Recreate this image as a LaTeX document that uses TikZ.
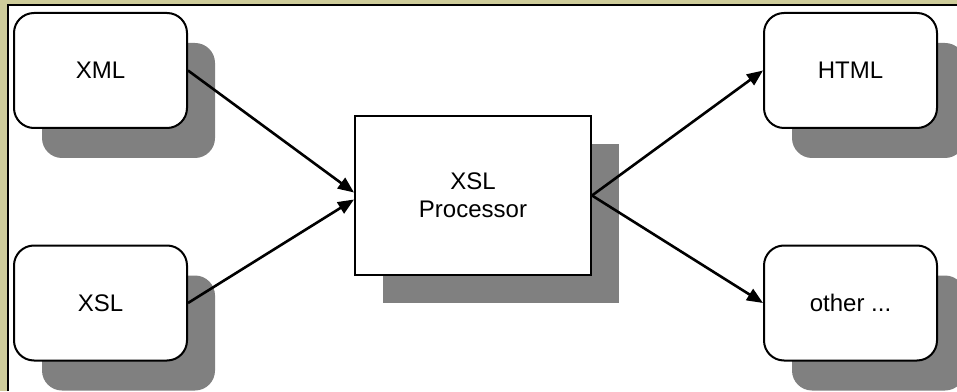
\documentclass[tikz,border=0pt]{standalone}
\usepackage{fontspec}
\setmainfont{Liberation Sans}
\usetikzlibrary{shadows,arrows.meta}
\definecolor{framekhaki}{RGB}{206,204,154}
\definecolor{shadegray}{RGB}{128,128,128}

\begin{document}
\begin{tikzpicture}[x=0.5pt,y=0.5pt,
    docbox/.style={draw,line width=1pt,rounded corners=10pt,fill=white,
        minimum width=86.5pt,minimum height=57.5pt,font=\large,
        drop shadow={shadow xshift=14pt,shadow yshift=-15pt,fill=shadegray,opacity=1}},
    procbox/.style={draw,line width=1pt,fill=white,align=center,
        minimum width=118pt,minimum height=79.5pt,font=\large,
        drop shadow={shadow xshift=14pt,shadow yshift=-14pt,fill=shadegray,opacity=1}},
    flow/.style={-{Triangle[length=8pt,width=6.5pt]},line width=1.3pt}]
    \useasboundingbox (0,0) rectangle (957,391);

    % window frame
    \fill[framekhaki] (0,0) rectangle (957,391);
    \fill[white] (7,0) rectangle (957,385);
    \draw[line width=1pt] (7.5,0) -- (7.5,385.5) -- (957,385.5);

    % inputs
    \node[docbox] (xml) at (100.5,320.5) {XML};
    \node[docbox] (xsl) at (100.5,88) {XSL};

    % processor
    \node[procbox] (proc) at (473,195.5) {XSL\\Processor};

    % outputs
    \node[docbox] (html) at (850.5,320.5) {HTML};
    \node[docbox] (other) at (850.5,88) {other ...};

    \draw[flow] (xml.east) -- ([yshift=1.5pt]proc.west);
    \draw[flow] (xsl.east) -- ([yshift=-2pt]proc.west);
    \draw[flow] (proc.east) -- (html.west);
    \draw[flow] (proc.east) -- (other.west);
\end{tikzpicture}
\end{document}
